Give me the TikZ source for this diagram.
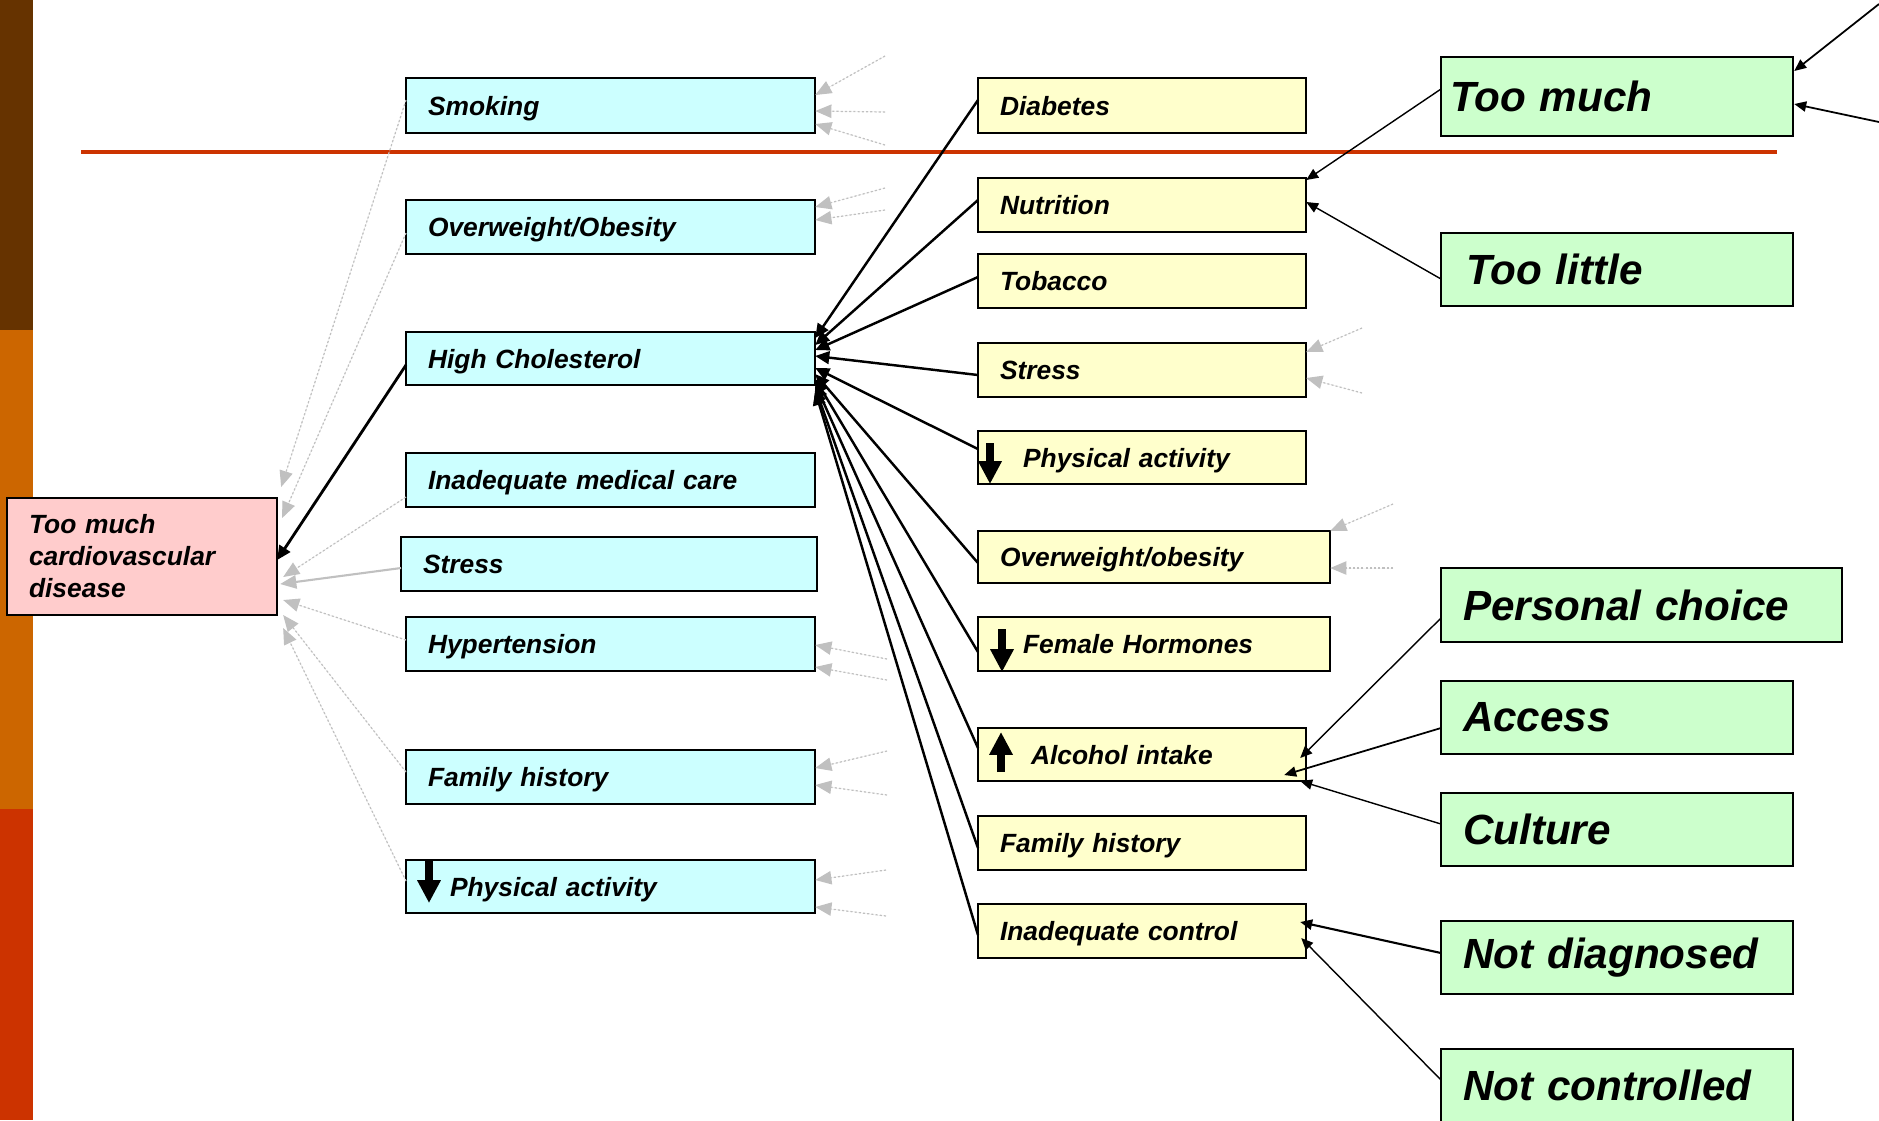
\documentclass[tikz,border=0pt]{standalone}
\usepackage{fontspec}
\setmainfont{Liberation Sans}
\usetikzlibrary{arrows.meta,calc}

\definecolor{cyanfill}{HTML}{CCFFFF}
\definecolor{yellowfill}{HTML}{FFFFCC}
\definecolor{greenfill}{HTML}{CCFFCC}
\definecolor{pinkfill}{HTML}{FFCCCC}
\definecolor{fadegray}{HTML}{C0C0C0}
\definecolor{barbrown}{HTML}{663300}
\definecolor{barorange}{HTML}{CC6600}
\definecolor{barred}{HTML}{CC3300}

\newcommand\lblfont{\fontsize{7.5pt}{9.1pt}\selectfont\bfseries\itshape}
\newcommand\bigfnt{\fontsize{12pt}{14pt}\selectfont\bfseries\itshape}

% box: style, name, left, top, right, bottom (in px units), text
\newcommand\bx[7]{%
  \pgfmathsetmacro\boxw{(#5-#3)/100}%
  \pgfmathsetmacro\boxh{(#6-#4)/100}%
  \pgfmathsetmacro\boxtw{\boxw-0.44}%
  \node[#1, minimum width=\boxw cm, minimum height=\boxh cm, text width=\boxtw cm] (#2) at (#3,#4) {#7};}

\begin{document}
\begin{tikzpicture}[x=0.01cm,y=-0.01cm,
  base/.style={draw=black, line width=0.55pt, anchor=north west, inner xsep=0.22cm,
    inner ysep=0pt, outer sep=0pt, align=left, font=\lblfont},
  cbox/.style={base, fill=cyanfill, text depth=0pt},
  ybox/.style={base, fill=yellowfill, text depth=0pt},
  pbox/.style={base, fill=pinkfill},
  gbox/.style={base, fill=greenfill, font=\bigfnt},
  link/.style={line width=0.7pt, -{Triangle[length=4pt,width=3.6pt]}},
  thinlink/.style={line width=0.4pt, -{Triangle[length=3.4pt,width=2.9pt]}},
  faint/.style={draw=fadegray, fill=fadegray, line width=0.35pt, dash pattern=on 0.6pt off 0.6pt,
    -{Triangle[length=4.6pt,width=3.8pt]}},
  solidfaint/.style={draw=fadegray, line width=0.6pt, -{Triangle[length=4.6pt,width=3.8pt]}},
  glyph/.style={line width=2pt, -{Triangle[length=6.5pt,width=6.3pt]}}]

\useasboundingbox (0,0) rectangle (1879,1120);
\clip (0,0) rectangle (1879,1120);

% side bar and rule
\fill[barbrown] (0,0) rectangle (33,330);
\fill[barorange] (0,330) rectangle (33,809);
\fill[barred] (0,809) rectangle (33,1120);
\draw[barred, line width=1.15pt] (81,152) -- (1777,152);

% outcome
\bx{pbox}{cvd}{7}{498}{277}{615}{Too much\\cardiovascular\\disease}

% risk factors
\bx{cbox}{smk}{406}{78}{815}{133}{Smoking}
\bx{cbox}{obe}{406}{200}{815}{254}{Overweight/Obesity}
\bx{cbox}{hc}{406}{332}{815}{385}{High Cholesterol}
\bx{cbox}{imc}{406}{453}{815}{507}{Inadequate medical care}
\bx{cbox}{cst}{401}{537}{817}{591}{Stress}
\bx{cbox}{hyp}{406}{617}{815}{671}{Hypertension}
\bx{cbox}{cfh}{406}{750}{815}{804}{Family history}
\bx{cbox}{cpa}{406}{860}{815}{913}{\hspace*{0.22cm}Physical activity}

% causes of high cholesterol
\bx{ybox}{dia}{978}{78}{1306}{133}{Diabetes}
\bx{ybox}{nut}{978}{178}{1306}{232}{Nutrition}
\bx{ybox}{tob}{978}{254}{1306}{308}{Tobacco}
\bx{ybox}{yst}{978}{343}{1306}{397}{Stress}
\bx{ybox}{ypa}{978}{431}{1306}{484}{\hspace*{0.23cm}Physical activity}
\bx{ybox}{yob}{978}{531}{1330}{583}{Overweight/obesity}
\bx{ybox}{fem}{978}{617}{1330}{671}{\hspace*{0.23cm}Female Hormones}
\bx{ybox}{alc}{978}{728}{1306}{781}{\hspace*{0.31cm}Alcohol intake}
\bx{ybox}{yfh}{978}{816}{1306}{870}{Family history}
\bx{ybox}{ic}{978}{904}{1306}{958}{Inadequate control}

% underlying reasons
\bx{gbox}{tm}{1441}{57}{1793}{136}{\hspace*{-0.13cm}Too much}
\bx{gbox}{tl}{1441}{233}{1793}{306}{\hspace*{0.03cm}Too little}
\bx{gbox}{pc}{1441}{568}{1842}{642}{Personal choice}
\bx{gbox}{acc}{1441}{681}{1793}{754}{Access}
\bx{gbox}{cul}{1441}{793}{1793}{866}{Culture}
\bx{gbox}{nd}{1441}{921}{1793}{994}{Not diagnosed}
\bx{gbox}{nc}{1441}{1049}{1793}{1122}{Not controlled}

% up/down markers inside boxes
\draw[glyph] ($(ypa.north west)+(12,12)$) -- ($(ypa.south west)+(12,0)$);
\draw[glyph] ($(fem.north west)+(24,12)$) -- ($(fem.south west)+(24,1)$);
\draw[glyph] ($(alc.south west)+(23,-9)$) -- ($(alc.north west)+(23,4)$);
\draw[glyph] ($(cpa.north west)+(23,1)$) -- ($(cpa.south west)+(23,-10)$);

% causes into high cholesterol
\draw[link] ($(dia.north west)+(0,22)$) -- ($(hc.north east)+(0,6)$);
\draw[link] ($(nut.north west)+(0,22)$) -- ($(hc.north east)+(0,13)$);
\draw[link] ($(tob.north west)+(0,23)$) -- ($(hc.north east)+(0,18)$);
\draw[link] ($(yst.north west)+(0,32)$) -- ($(hc.north east)+(0,24)$);
\draw[link] ($(ypa.north west)+(0,18)$) -- ($(hc.north east)+(0,36)$);
\draw[link] ($(yob.north west)+(0,32)$) -- ($(hc.north east)+(0,42)$);
\draw[link] ($(fem.north west)+(0,35)$) -- ($(hc.north east)+(0,47)$);
\draw[link] ($(alc.north west)+(0,20)$) -- ($(hc.north east)+(0,52)$);
\draw[link] ($(yfh.north west)+(0,32)$) -- ($(hc.north east)+(0,56)$);
\draw[link] ($(ic.north west)+(0,31)$) -- ($(hc.north east)+(0,59)$);

% high cholesterol into disease
\draw[link, line width=0.8pt] ($(hc.north west)+(0,33)$) -- ($(cvd.north east)+(0,62)$);

% other risk factors into disease
\draw[faint] ($(smk.north west)+(0,22)$) -- ($(cvd.north east)+(4,-11)$);
\draw[faint] ($(obe.north west)+(0,33)$) -- ($(cvd.north east)+(5,20)$);
\draw[faint] ($(imc.north west)+(0,44)$) -- ($(cvd.north east)+(6,79)$);
\draw[solidfaint] ($(cst.north west)+(0,31)$) -- ($(cvd.north east)+(3,86)$);
\draw[faint] ($(hyp.north west)+(0,23)$) -- ($(cvd.north east)+(6,102)$);
\draw[faint] ($(cfh.north west)+(0,22)$) -- ($(cvd.north east)+(6,117)$);
\draw[faint] ($(cpa.north west)+(0,21)$) -- ($(cvd.north east)+(6,130)$);

% incoming stubs from further causes
\coordinate (sa) at (885,56);   \coordinate (sb) at (885,112);  \coordinate (sc) at (885,145);
\coordinate (oa) at (885,188);  \coordinate (ob) at (885,210);
\coordinate (ha) at (887,659);  \coordinate (hb) at (887,680);
\coordinate (fa) at (887,751);  \coordinate (fb) at (887,795);
\coordinate (pa) at (886,870);  \coordinate (pb) at (886,916);
\coordinate (ta) at (1362,328); \coordinate (tb) at (1362,393);
\coordinate (wa) at (1393,504); \coordinate (wb) at (1393,568);
\coordinate (in1) at (1879,4);  \coordinate (in2) at (1879,122);

\draw[faint] (sa) -- ($(smk.north east)+(0,17)$);
\draw[faint] (sb) -- ($(smk.north east)+(0,33)$);
\draw[faint] (sc) -- ($(smk.north east)+(0,46)$);
\draw[faint] (oa) -- ($(obe.north east)+(0,7)$);
\draw[faint] (ob) -- ($(obe.north east)+(0,20)$);
\draw[faint] (ha) -- ($(hyp.north east)+(0,28)$);
\draw[faint] (hb) -- ($(hyp.north east)+(0,50)$);
\draw[faint] (fa) -- ($(cfh.north east)+(0,18)$);
\draw[faint] (fb) -- ($(cfh.north east)+(0,35)$);
\draw[faint] (pa) -- ($(cpa.north east)+(0,20)$);
\draw[faint] (pb) -- ($(cpa.north east)+(0,47)$);
\draw[faint] (ta) -- ($(yst.north east)+(0,9)$);
\draw[faint] (tb) -- ($(yst.north east)+(0,35)$);
\draw[faint] (wa) -- ($(yob.north east)+(0,0)$);
\draw[faint] (wb) -- ($(yob.north east)+(0,37)$);

\draw[thinlink, line width=0.5pt] (in1) -- ($(tm.north east)+(1,14)$);
\draw[thinlink, line width=0.5pt] (in2) -- ($(tm.north east)+(1,47)$);

% reasons into causes
\draw[thinlink] ($(tm.north west)+(0,32)$) -- ($(nut.north east)+(0,2)$);
\draw[thinlink] ($(tl.north west)+(0,46)$) -- ($(nut.north east)+(0,24)$);
\draw[thinlink] ($(pc.north west)+(0,50)$) -- ($(alc.north east)+(-6,30)$);
\draw[thinlink, line width=0.5pt] ($(acc.north west)+(0,47)$) -- ($(alc.north east)+(-22,47)$);
\draw[thinlink] ($(cul.north west)+(0,31)$) -- ($(alc.north east)+(-6,53)$);
\draw[thinlink, line width=0.6pt] ($(nd.north west)+(0,32)$) -- ($(ic.north east)+(-6,18)$);
\draw[thinlink] ($(nc.north west)+(0,31)$) -- ($(ic.north east)+(-5,34)$);

\end{tikzpicture}
\end{document}
